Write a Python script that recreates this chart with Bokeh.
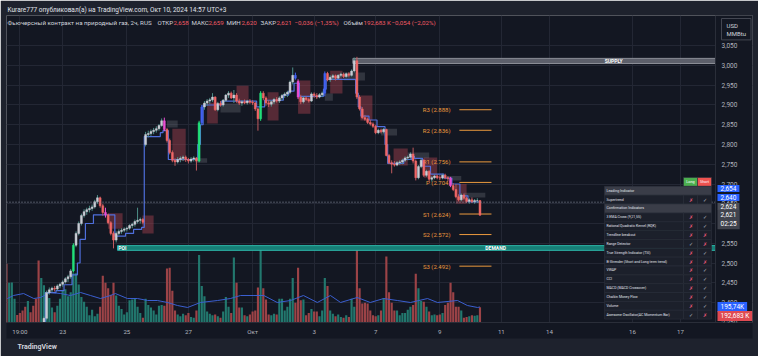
import numpy as np
from bokeh.plotting import figure
from bokeh.models import (Range1d, FixedTicker, CustomJSTickFormatter, Label, Title,
                          BoxAnnotation)
from bokeh.core.properties import value
from bokeh.embed import file_html
from bokeh.resources import INLINE

# ----------------------------- data (2h bars) -----------------------------
opens = [
    2.300, 2.285, 2.305, 2.320, 2.330, 2.325, 2.318, 2.310, 2.305, 2.325,
    2.320, 2.310, 2.305, 2.295, 2.340, 2.360, 2.425, 2.432, 2.436, 2.434,
    2.442, 2.446, 2.452, 2.460, 2.465, 2.480, 2.545, 2.575, 2.600, 2.620,
    2.630, 2.635, 2.638, 2.642, 2.655, 2.665, 2.645, 2.628, 2.622, 2.602,
    2.575, 2.558, 2.575, 2.580, 2.583, 2.586, 2.588, 2.595, 2.598, 2.605,
    2.608, 2.610, 2.800, 2.825, 2.828, 2.833, 2.836, 2.840, 2.848, 2.860,
    2.838, 2.810, 2.780, 2.760, 2.756, 2.762, 2.765, 2.768, 2.762, 2.758,
    2.763, 2.766, 2.758, 2.855, 2.895, 2.905, 2.910, 2.913, 2.920, 2.888,
    2.904, 2.900, 2.912, 2.925, 2.930, 2.918, 2.925, 2.910, 2.905, 2.908,
    2.906, 2.910, 2.907, 2.905, 2.890, 2.865, 2.930, 2.918, 2.905, 2.902,
    2.908, 2.914, 2.910, 2.918, 2.924, 2.928, 2.932, 2.958, 2.975, 2.960,
    2.920, 2.908, 2.918, 2.914, 2.910, 2.928, 2.924, 2.920, 2.926, 2.930,
    2.980, 2.964, 2.970, 2.974, 2.968, 2.975, 2.978, 2.972, 2.979, 2.975,
    2.986, 3.012, 2.920, 2.890, 2.868, 2.864, 2.856, 2.852, 2.846, 2.830,
    2.836, 2.832, 2.838, 2.772, 2.754, 2.750, 2.748, 2.754, 2.756, 2.760,
    2.766, 2.768, 2.776, 2.758, 2.716, 2.744, 2.760, 2.722, 2.732, 2.712,
    2.716, 2.720, 2.716, 2.715, 2.722, 2.716, 2.714, 2.696, 2.686, 2.668,
    2.660, 2.672, 2.664, 2.656, 2.660, 2.655, 2.658, 2.658]
highs = [
    2.305, 2.310, 2.325, 2.335, 2.332, 2.328, 2.322, 2.315, 2.330, 2.330,
    2.325, 2.318, 2.310, 2.345, 2.365, 2.430, 2.438, 2.440, 2.442, 2.446,
    2.450, 2.456, 2.464, 2.470, 2.485, 2.550, 2.580, 2.605, 2.625, 2.636,
    2.640, 2.645, 2.648, 2.660, 2.672, 2.668, 2.650, 2.640, 2.625, 2.606,
    2.580, 2.580, 2.585, 2.588, 2.590, 2.592, 2.598, 2.602, 2.610, 2.640,
    2.615, 2.614, 2.832, 2.835, 2.838, 2.842, 2.846, 2.852, 2.866, 2.868,
    2.842, 2.815, 2.785, 2.765, 2.768, 2.770, 2.772, 2.772, 2.766, 2.768,
    2.770, 2.768, 2.860, 2.900, 2.910, 2.915, 2.918, 2.930, 2.922, 2.908,
    2.910, 2.915, 2.928, 2.935, 2.934, 2.938, 2.930, 2.916, 2.912, 2.914,
    2.913, 2.915, 2.912, 2.908, 2.893, 2.935, 2.935, 2.922, 2.912, 2.912,
    2.918, 2.920, 2.922, 2.928, 2.932, 2.936, 2.962, 2.995, 2.982, 2.965,
    2.926, 2.922, 2.922, 2.918, 2.932, 2.932, 2.930, 2.930, 2.934, 2.985,
    2.984, 2.975, 2.978, 2.977, 2.978, 2.982, 2.982, 2.982, 2.983, 2.990,
    3.020, 3.022, 2.925, 2.895, 2.875, 2.868, 2.862, 2.856, 2.850, 2.840,
    2.840, 2.842, 2.840, 2.776, 2.760, 2.758, 2.758, 2.760, 2.764, 2.770,
    2.772, 2.780, 2.792, 2.762, 2.748, 2.764, 2.764, 2.736, 2.735, 2.720,
    2.724, 2.724, 2.722, 2.726, 2.726, 2.720, 2.718, 2.702, 2.700, 2.674,
    2.676, 2.676, 2.668, 2.664, 2.666, 2.662, 2.664, 2.659]
lows = [
    2.280, 2.280, 2.300, 2.315, 2.320, 2.315, 2.305, 2.300, 2.302, 2.315,
    2.305, 2.300, 2.285, 2.290, 2.335, 2.355, 2.420, 2.426, 2.428, 2.430,
    2.436, 2.440, 2.448, 2.452, 2.460, 2.476, 2.540, 2.570, 2.595, 2.615,
    2.622, 2.628, 2.632, 2.638, 2.650, 2.640, 2.620, 2.615, 2.598, 2.570,
    2.537, 2.552, 2.570, 2.574, 2.578, 2.580, 2.584, 2.588, 2.592, 2.600,
    2.600, 2.598, 2.795, 2.818, 2.822, 2.826, 2.830, 2.835, 2.845, 2.834,
    2.805, 2.775, 2.755, 2.746, 2.752, 2.755, 2.758, 2.756, 2.752, 2.754,
    2.757, 2.734, 2.755, 2.850, 2.888, 2.898, 2.903, 2.908, 2.885, 2.884,
    2.896, 2.896, 2.908, 2.918, 2.915, 2.905, 2.906, 2.900, 2.898, 2.902,
    2.901, 2.903, 2.900, 2.885, 2.835, 2.860, 2.912, 2.898, 2.895, 2.896,
    2.902, 2.906, 2.905, 2.912, 2.918, 2.920, 2.928, 2.952, 2.964, 2.915,
    2.902, 2.904, 2.910, 2.906, 2.908, 2.918, 2.915, 2.917, 2.920, 2.922,
    2.960, 2.958, 2.964, 2.962, 2.965, 2.970, 2.968, 2.969, 2.970, 2.972,
    2.982, 2.915, 2.886, 2.865, 2.860, 2.852, 2.848, 2.842, 2.826, 2.826,
    2.828, 2.828, 2.770, 2.750, 2.727, 2.744, 2.745, 2.748, 2.750, 2.756,
    2.760, 2.764, 2.752, 2.709, 2.712, 2.740, 2.718, 2.718, 2.706, 2.706,
    2.712, 2.712, 2.710, 2.712, 2.712, 2.708, 2.692, 2.682, 2.664, 2.656,
    2.656, 2.660, 2.652, 2.650, 2.652, 2.650, 2.652, 2.620]
closes = [
    2.285, 2.305, 2.320, 2.330, 2.325, 2.318, 2.310, 2.305, 2.325, 2.320,
    2.310, 2.305, 2.295, 2.340, 2.360, 2.425, 2.432, 2.436, 2.434, 2.442,
    2.446, 2.452, 2.460, 2.465, 2.480, 2.545, 2.575, 2.600, 2.620, 2.630,
    2.635, 2.638, 2.642, 2.655, 2.665, 2.645, 2.628, 2.622, 2.602, 2.575,
    2.558, 2.575, 2.580, 2.583, 2.586, 2.588, 2.595, 2.598, 2.605, 2.608,
    2.610, 2.603, 2.825, 2.828, 2.833, 2.836, 2.840, 2.848, 2.860, 2.838,
    2.810, 2.780, 2.760, 2.756, 2.762, 2.765, 2.768, 2.762, 2.758, 2.763,
    2.766, 2.758, 2.855, 2.895, 2.905, 2.910, 2.913, 2.920, 2.888, 2.904,
    2.900, 2.912, 2.925, 2.930, 2.918, 2.925, 2.910, 2.905, 2.908, 2.906,
    2.910, 2.907, 2.905, 2.890, 2.865, 2.930, 2.918, 2.905, 2.902, 2.908,
    2.914, 2.910, 2.918, 2.924, 2.928, 2.932, 2.958, 2.975, 2.968, 2.920,
    2.908, 2.918, 2.914, 2.910, 2.928, 2.924, 2.920, 2.926, 2.930, 2.980,
    2.964, 2.970, 2.974, 2.968, 2.975, 2.978, 2.972, 2.979, 2.975, 2.986,
    3.012, 2.920, 2.890, 2.868, 2.864, 2.856, 2.852, 2.846, 2.830, 2.836,
    2.832, 2.838, 2.772, 2.754, 2.750, 2.748, 2.754, 2.756, 2.760, 2.766,
    2.768, 2.776, 2.758, 2.716, 2.744, 2.760, 2.722, 2.732, 2.712, 2.716,
    2.720, 2.716, 2.715, 2.722, 2.716, 2.714, 2.696, 2.686, 2.668, 2.660,
    2.672, 2.664, 2.656, 2.660, 2.655, 2.658, 2.658, 2.621]
volume_k = [
    740, 500, 505, 300, 95, 120, 150, 200, 270, 130, 210, 300, 780, 560, 470,
    350, 310, 190, 130, 210, 300, 400, 420, 330, 380,
    620, 620, 480, 320, 260, 200, 90, 160, 80, 110,
    200, 590, 500, 430, 350, 500, 340, 210, 170, 100,
    130, 280, 290, 310, 200, 120, 60, 300, 220, 190,
    150, 100, 210, 220, 210, 680, 690, 400, 150, 100,
    80, 110, 90, 120, 70, 60, 150, 850, 460, 330,
    140, 110, 90, 100, 80, 60, 140, 320, 200, 120,
    820, 500, 190, 190, 90, 80, 100, 140, 150, 440,
    970, 430, 290, 100, 90, 110, 100, 300, 300, 150,
    200, 300, 560, 250, 690, 280, 290, 90, 120, 170,
    140, 140, 80, 150, 560, 460, 150, 110, 80, 100,
    70, 60, 90, 70, 300, 200, 920, 430, 240, 250,
    240, 150, 90, 80, 90, 150, 310, 830, 380, 250,
    150, 150, 90, 120, 120, 160, 200, 220, 615, 430,
    270, 260, 200, 140, 90, 100, 90, 100, 120, 220,
    250, 500, 380, 200, 200, 150, 60, 70, 80, 90,
    85, 90, 193]
trend_line = [
    2.300, 2.300, 2.300, 2.300, 2.300, 2.300, 2.300, 2.300, 2.300, 2.300,
    2.300, 2.300, 2.300, 2.320, 2.320, 2.425, 2.425, 2.425, 2.425, 2.430,
    2.430, 2.430, 2.445, 2.445, 2.445, 2.470, 2.470, 2.500, 2.560, 2.560,
    2.600, 2.600, 2.600, 2.622, 2.622, 2.622, 2.622, 2.622, 2.622, 2.622,
    2.622, 2.568, 2.568, 2.568, 2.568, 2.575, 2.575, 2.575, 2.585, 2.585,
    2.585, 2.590, 2.820, 2.820, 2.820, 2.820, 2.820, 2.820, 2.830, 2.835,
    2.835, 2.762, 2.762, 2.762, 2.762, 2.762, 2.762, 2.762, 2.762, 2.762,
    2.762, 2.762, 2.800, 2.850, 2.900, 2.900, 2.900, 2.900, 2.900, 2.900,
    2.900, 2.910, 2.910, 2.910, 2.910, 2.910, 2.910, 2.910, 2.910, 2.910,
    2.910, 2.910, 2.910, 2.910, 2.895, 2.895, 2.895, 2.912, 2.912, 2.912,
    2.912, 2.912, 2.912, 2.912, 2.925, 2.925, 2.935, 2.935, 2.955, 2.955,
    2.922, 2.922, 2.922, 2.922, 2.922, 2.922, 2.922, 2.922, 2.922, 2.940,
    2.965, 2.965, 2.965, 2.965, 2.965, 2.965, 2.965, 2.965, 2.965, 2.965,
    2.965, 2.930, 2.895, 2.872, 2.872, 2.872, 2.862, 2.862, 2.862, 2.845,
    2.845, 2.845, 2.800, 2.752, 2.752, 2.752, 2.752, 2.752, 2.752, 2.762,
    2.762, 2.762, 2.770, 2.765, 2.765, 2.765, 2.745, 2.745, 2.745, 2.725,
    2.725, 2.725, 2.725, 2.725, 2.715, 2.715, 2.715, 2.700, 2.700, 2.700,
    2.670, 2.670, 2.670, 2.655, 2.655, 2.655, 2.655, 2.655]
green_bars = [25, 72, 95]
blue_bars = [73, 108, 119]
pink_bars = [37, 59, 109, 166]

vol_ma_bar = [0.3, 2.6, 6.4, 10.2, 12.7, 16.4, 20.2, 23.9, 27.7, 31.4, 35.1, 38.9, 40.7,
              45.2, 49, 52.7, 56.4, 60.2, 63.9, 67.7, 72.5, 78.9, 83.7, 87.5, 92.5, 96.2,
              101.2, 106.2, 111, 116.2, 121.1, 124.9, 131.1, 136, 141, 146.1, 151, 157.4,
              161.1, 168.6, 172.3, 176.1, 177]
vol_ma_k = [302, 340, 365, 302, 315, 378, 365, 340, 378, 340, 302, 340, 365,
            302, 302, 277, 277, 252, 214, 189, 252, 277, 302, 340, 340, 340,
            252, 277, 340, 252, 340, 252, 315, 252, 302, 277, 252, 302,
            252, 277, 214, 189, 196]

pivot_names = ["R3", "R2", "R1", "P", "S1", "S2", "S3"]
pivot_values = [2.888, 2.836, 2.756, 2.704, 2.624, 2.572, 2.492]

demand_low, demand_high = 2.532, 2.544
supply_low, supply_high = 3.005, 3.018

red_box_left = [38.0, 50.8, 62.0, 75.0, 86.0, 97.6, 109.0, 121.0, 132.3, 144.7, 156.0, 168.0]
red_box_right = [43.4, 55.0, 67.0, 79.0, 90.5, 101.7, 113.6, 125.6, 136.8, 150.0, 161.0, 172.0]
red_box_top = [2.626, 2.620, 2.840, 2.906, 2.949, 2.932, 2.962, 2.987, 2.924, 2.790, 2.767, 2.700]
red_box_bottom = [2.587, 2.575, 2.759, 2.853, 2.904, 2.861, 2.878, 2.929, 2.861, 2.747, 2.716, 2.650]

gray_box_left = [60.0, 70.7, 80.0, 126.0, 119.0, 140.0, 150.0, 165.0, 171.0]
gray_box_right = [64.0, 75.0, 87.5, 134.0, 122.0, 146.0, 158.0, 170.0, 179.0]
gray_box_top = [2.861, 2.765, 2.904, 2.982, 2.929, 2.840, 2.780, 2.720, 2.678]
gray_box_bottom = [2.843, 2.754, 2.881, 2.962, 2.911, 2.823, 2.765, 2.709, 2.666]

x_tick_bars = [5, 21, 45, 68, 92, 115, 138, 162, 185, 203, 234, 252]
x_tick_labels = ["19:00", "23", "25", "27", "Окт", "3", "7", "9", "11", "14", "16", "17"]
y_ticks = [2.35, 2.40, 2.45, 2.50, 2.55, 2.60, 2.65, 2.70, 2.75, 2.80, 2.85, 2.90, 2.95, 3.00, 3.05]
marker_line_price = 2.654

table_names = ["", "Leading Indicator", "Supertrend", "Confirmation Indicators",
               "3 EMA Cross (9,21,55)", "Rational Quadratic Kernel (RQK)", "Trendline breakout",
               "Range Detector", "True Strength Indicator (TSI)",
               "B-Xtrender (Short and Long term trend)", "VWAP", "CCI", "MACD (MACD Crossover)",
               "Chaikin Money Flow", "Volume", "Awesome Oscillator(AC Momentum Bar)"]
table_kind = ["head", "section", "item", "section"] + ["item"] * 12
table_long = [False, False, False, False, True, False, False, False, False, False, False, False, True]
table_short = [True, True, True, False, False, True, False, True, True, True, True, True, False]

# ----------------------------- geometry / style -----------------------------
FONT = "Roboto"
BG = "#131722"
BORDER = "#1e222d"
FL, FR, FT, FB = 6, 752, 15, 322       # plot frame (includes the price-scale strip)
CH_R = 715                              # right edge of the chart pane, where the price scale sits
PX_PER_BAR = 2.675
X0 = 0.0
X1 = X0 + (FR - FL) / PX_PER_BAR
X_PANE_END = X0 + (CH_R - FL) / PX_PER_BAR
Y0, Y1 = 2.34937, 3.12658
VOL_TOP = 3868.0


def px_x(px):
    return X0 + (px - FL) * (X1 - X0) / (FR - FL)


def px_y(py):
    return Y0 + (FB - py) * (Y1 - Y0) / (FB - FT)


p = figure(width=758, height=356, x_range=Range1d(X0, X1), y_range=Range1d(Y0, Y1),
           y_axis_location="right", output_backend="svg", toolbar_location=None,
           min_border_left=FL, min_border_right=758 - FR, min_border_top=FT,
           min_border_bottom=356 - FB, background_fill_color=BG, border_fill_color=BORDER,
           outline_line_color=None)
p.title.text = "Kurare777 опубликовал(а) на TradingView.com, Окт 10, 2024 14:57 UTC+3"
p.title.text_font = FONT
p.title.text_font_size = "6.5px"
p.title.text_font_style = "normal"
p.title.text_color = "#e0e3eb"
p.title.align = "left"
p.title.offset = 1
p.title.standoff = 3
p.extra_y_ranges = {"vol": Range1d(0, VOL_TOP)}

xt = FixedTicker(ticks=x_tick_bars)
yt = FixedTicker(ticks=y_ticks)
xax = p.xaxis[0]
xax.ticker = xt
xax.major_label_overrides = {b: l for b, l in zip(x_tick_bars, x_tick_labels)}
yax = p.yaxis[0]
yax.ticker = yt
yax.fixed_location = X_PANE_END
yax.formatter = CustomJSTickFormatter(code="return tick.toFixed(3).replace('.', ',');")
for ax in (xax, yax):
    ax.major_label_text_color = "#b2b5be"
    ax.major_label_text_font = FONT
    ax.major_tick_line_color = None
    ax.minor_tick_line_color = None
    ax.major_tick_out = 0
    ax.major_tick_in = 0
    ax.minor_tick_out = 0
    ax.minor_tick_in = 0
    ax.axis_line_color = "#2a2e39"
xax.background_fill_color = BG
xax.major_label_text_font_size = "6.2px"
xax.major_label_standoff = 5
yax.major_label_text_font_size = "6.5px"
yax.major_label_standoff = 6
p.xgrid.ticker = xt
p.ygrid.ticker = yt
p.xgrid.grid_line_color = "#232734"
p.ygrid.grid_line_color = "#232734"

# price-scale strip: keep the grid out of it
p.add_layout(BoxAnnotation(left=X_PANE_END, fill_color=BG, fill_alpha=1.0, line_color=None,
                           level="underlay"))

p.add_layout(Title(text="TradingView", align="left", offset=11, text_font=FONT,
                   text_font_size="7px", text_font_style="bold", text_color="#d1d4dc",
                   standoff=4), "below")

idx = np.arange(len(closes))
o = np.array(opens); c = np.array(closes); h = np.array(highs); lo = np.array(lows)
up = c >= o

# volume
vcol = ["#22786e" if u else "#9c4347" for u in up]
p.vbar(x=idx, width=0.8, top=volume_k, bottom=0, y_range_name="vol", fill_color=vcol, line_color=None)
p.line(vol_ma_bar, vol_ma_k, y_range_name="vol", line_color="#3b5fd0", line_width=1)

# zones
p.quad(left=[41.5], right=[X_PANE_END], bottom=[demand_low], top=[demand_high], fill_color="#177f77",
       line_color="#2bb3a6", line_width=1)
p.quad(left=[129.5], right=[X_PANE_END], bottom=[supply_low], top=[supply_high], fill_color="#5d606b",
       line_color="#8c8f98", line_width=1)
p.text(x=[41.8], y=[(demand_low + demand_high) / 2], text=["POI"], text_font=value(FONT),
       text_font_size="5px", text_color="white", text_baseline="middle", text_font_style="bold")
p.text(x=[179.0], y=[(demand_low + demand_high) / 2], text=["DEMAND"], text_font=value(FONT),
       text_font_size="5px", text_color="white", text_baseline="middle", text_font_style="bold")
p.text(x=[227.0], y=[(supply_low + supply_high) / 2], text=["SUPPLY"], text_font=value(FONT),
       text_font_size="5px", text_color="white", text_baseline="middle", text_align="center",
       text_font_style="bold")

# signal boxes
p.quad(left=red_box_left, right=red_box_right, top=red_box_top, bottom=red_box_bottom,
       fill_color="#a8424f", fill_alpha=0.45, line_color=None)
p.quad(left=gray_box_left, right=gray_box_right, top=gray_box_top, bottom=gray_box_bottom,
       fill_color="#787b86", fill_alpha=0.3, line_color=None)

# pivots
PIV = "#ec9a3e"
p.segment(x0=[169.3] * len(pivot_values), x1=[181.3] * len(pivot_values), y0=pivot_values,
          y1=pivot_values, line_color=PIV, line_width=1)
p.text(x=[166.0] * len(pivot_values), y=pivot_values,
       text=[f"{n} ({v:.3f})" for n, v in zip(pivot_names, pivot_values)],
       text_font=value(FONT), text_font_size="6px", text_color=PIV, text_align="right",
       text_baseline="middle")

# trend line
p.step(idx, trend_line, mode="center", line_color="#4f6fdc", line_width=1.2)

# candles
ccol, wcol = [], []
for i, u in enumerate(up):
    if i in green_bars:
        col = "#22e07a"
    elif i in blue_bars:
        col = "#4262f2"
    elif i in pink_bars:
        col = "#ea4fd2"
    elif u:
        col = "#c9ccd4"
    else:
        col = "#ef6767"
    ccol.append(col)
    if i in green_bars or i in blue_bars or i in pink_bars:
        wcol.append(col)
    else:
        wcol.append("#4d8f88" if u else "#c05a5e")
p.segment(x0=idx, y0=h, x1=idx, y1=lo, line_color=wcol, line_width=1)
p.vbar(x=idx, width=0.72, top=np.maximum(o, c), bottom=np.minimum(o, c), fill_color=ccol,
       line_color=ccol, line_width=0.5)

# dotted price line
p.segment(x0=[X0], x1=[X_PANE_END], y0=[marker_line_price], y1=[marker_line_price],
          line_color="#8d93a5", line_dash="1 2", line_width=1)

# ---------------- signal table ----------------
T_L, T_C1, T_C2, T_R = 604, 683, 697, 711
T_TOP, T_ROW = 177, 8.85
ql, qr, qt, qb, qc = [], [], [], [], []


def cell(a, b, k, col):
    ql.append(px_x(a)); qr.append(px_x(b))
    qt.append(px_y(T_TOP + k * T_ROW)); qb.append(px_y(T_TOP + (k + 1) * T_ROW)); qc.append(col)


tx, ty, tt, tcol, tsize, talign = [], [], [], [], [], []
item_k = 0
for k, (name, kind) in enumerate(zip(table_names, table_kind)):
    yc = px_y(T_TOP + (k + 0.5) * T_ROW)
    if kind == "head":
        cell(T_C1, T_C2, k, "#4caf50"); cell(T_C2, T_R, k, "#ef5350")
        tx += [px_x((T_C1 + T_C2) / 2), px_x((T_C2 + T_R) / 2)]; ty += [yc, yc]
        tt += ["Long", "Short"]; tcol += ["white", "white"]; tsize += ["3.8px", "3.8px"]
        talign += ["center", "center"]
    elif kind == "section":
        cell(T_L, T_R, k, "#3a3d48")
        tx.append(px_x(T_L + 2)); ty.append(yc); tt.append(name); tcol.append("#e0e3eb")
        tsize.append("3.6px"); talign.append("left")
    else:
        cell(T_L, T_C1, k, "#1c202b"); cell(T_C1, T_C2, k, "#1c202b"); cell(T_C2, T_R, k, "#1c202b")
        tx.append(px_x(T_L + 2)); ty.append(yc); tt.append(name); tcol.append("#e0e3eb")
        tsize.append("3.5px"); talign.append("left")
        for flag, a, b in ((table_long[item_k], T_C1, T_C2), (table_short[item_k], T_C2, T_R)):
            tx.append(px_x((a + b) / 2)); ty.append(yc)
            tt.append("✓" if flag else "✗")
            tcol.append("#b2b5be" if flag else "#f05a7e")
            tsize.append("5px"); talign.append("center")
        item_k += 1
p.quad(left=ql, right=qr, top=qt, bottom=qb, fill_color=qc, line_color="#2c303c", line_width=0.6)
p.text(x=tx, y=ty, text=tt, text_color=tcol, text_font_size=tsize, text_align=talign,
       text_baseline="middle", text_font=value(FONT))


# ---------------- overlay texts (screen units, relative to the frame) ----------------
def lab(px, py, text, color="#d1d4dc", size="6px", align="left", baseline="middle", **kw):
    p.add_layout(Label(x=px - FL, y=FB - py, x_units="screen", y_units="screen", text=text,
                       text_color=color, text_font=FONT, text_font_size=size,
                       text_align=align, text_baseline=baseline, **kw))


RED = "#f05a64"
FG = "#d1d4dc"
for txt, px, col in [("Фьючерсный контракт на природный газ, 2ч, RUS", 7, FG),
                     ("ОТКР", 157, FG), ("2,658", 173, RED), ("МАКС", 191, FG), ("2,659", 208, RED),
                     ("МИН", 226, FG), ("2,620", 241, RED), ("ЗАКР", 260, FG), ("2,621", 276, RED),
                     ("−0,036 (−1,35%)", 294, RED), ("Объём", 343, FG), ("192,683 K", 363, RED),
                     ("−0,054 (−2,02%)", 391, RED)]:
    lab(px, 22, txt, color=col, size="6.2px")

for txt, py, bg in [("2,654", 188, "#2962ff"), ("2,640", 197, "#2962ff"), ("2,624", 206, "#4b4e58"),
                    ("2,621\n02:25", 219, "#40434d"), ("195,74K", 306.5, "#2962ff"),
                    ("192,683 K", 315.5, "#e04a52")]:
    lab(717, py, txt, color="white", size="6.5px", background_fill_color=bg, padding=(3, 1))

lab(721, 18, "USD\nMMBtu", color="#d1d4dc", size="6px", baseline="top",
    background_fill_color=BG, border_line_color="#434651", padding=(5, 3))

open("out.html", "w").write(file_html(p, INLINE))
